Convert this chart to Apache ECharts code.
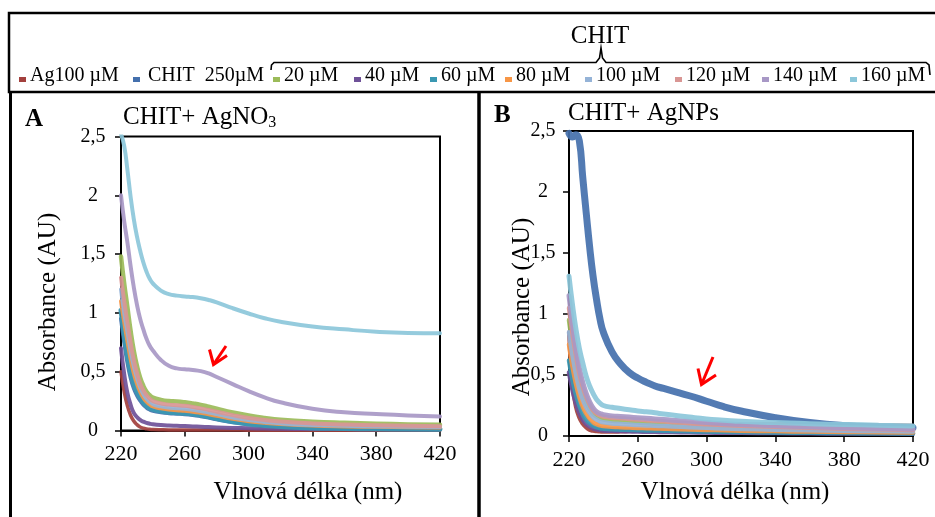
<!DOCTYPE html>
<html>
<head>
<meta charset="utf-8">
<script src="https://cdn.jsdelivr.net/npm/echarts@6/dist/echarts.min.js"></script>
<style>
  html, body { margin: 0; padding: 0; background: #ffffff; }
  #chart { width: 935px; height: 517px; }
</style>
</head>
<body>
<div id="chart"></div>
<script>
// Wavelength grid (nm) shared by every spectrum
const wavelengths = [220, 222, 224, 226, 228, 230, 232, 234, 236, 238, 240, 245, 250, 255, 260, 265, 270, 275, 280, 290, 300, 310, 320, 340, 360, 380, 400, 420];

const seriesNames = ['Ag100 µM', 'CHIT  250µM', '20 µM', '40 µM', '60 µM', '80 µM', '100 µM', '120 µM', '140 µM', '160 µM'];

// Panel A: CHIT + AgNO3 absorbance (AU)
const aAg100 = [0.50, 0.33, 0.21, 0.13, 0.08, 0.05, 0.03, 0.02, 0.014, 0.01, 0.008, 0.006, 0.005, 0.005, 0.005, 0.004, 0.004, 0.004, 0.004, 0.004, 0.003, 0.003, 0.003, 0.003, 0.003, 0.003, 0.003, 0.003];
const aChit250 = [0.95, 0.75, 0.58, 0.45, 0.36, 0.30, 0.255, 0.22, 0.195, 0.178, 0.168, 0.155, 0.147, 0.143, 0.139, 0.132, 0.122, 0.11, 0.095, 0.07, 0.052, 0.04, 0.031, 0.021, 0.016, 0.013, 0.011, 0.01];
const a20 = [1.48, 1.25, 1.05, 0.85, 0.68, 0.55, 0.45, 0.38, 0.33, 0.30, 0.28, 0.26, 0.25, 0.247, 0.24, 0.23, 0.218, 0.202, 0.185, 0.153, 0.127, 0.107, 0.092, 0.075, 0.065, 0.058, 0.052, 0.048];
const a40 = [0.70, 0.48, 0.32, 0.22, 0.15, 0.115, 0.09, 0.075, 0.065, 0.058, 0.053, 0.046, 0.042, 0.04, 0.038, 0.035, 0.032, 0.029, 0.026, 0.022, 0.019, 0.017, 0.015, 0.013, 0.012, 0.011, 0.01, 0.01];
const a60 = [1.02, 0.82, 0.64, 0.50, 0.40, 0.33, 0.28, 0.24, 0.21, 0.19, 0.18, 0.165, 0.155, 0.151, 0.147, 0.14, 0.13, 0.117, 0.102, 0.076, 0.056, 0.043, 0.034, 0.022, 0.017, 0.014, 0.012, 0.011];
const a80 = [1.10, 0.92, 0.76, 0.61, 0.49, 0.40, 0.33, 0.28, 0.245, 0.222, 0.205, 0.188, 0.178, 0.172, 0.167, 0.16, 0.15, 0.138, 0.125, 0.099, 0.079, 0.065, 0.055, 0.042, 0.035, 0.031, 0.028, 0.026];
const a100 = [1.20, 1.00, 0.84, 0.68, 0.55, 0.45, 0.37, 0.31, 0.27, 0.245, 0.225, 0.205, 0.195, 0.19, 0.184, 0.176, 0.166, 0.153, 0.14, 0.111, 0.089, 0.073, 0.061, 0.047, 0.04, 0.035, 0.032, 0.03];
const a120 = [1.30, 1.10, 0.92, 0.75, 0.60, 0.49, 0.40, 0.34, 0.30, 0.27, 0.25, 0.23, 0.22, 0.215, 0.21, 0.20, 0.188, 0.174, 0.16, 0.131, 0.106, 0.089, 0.076, 0.06, 0.05, 0.045, 0.04, 0.037];
const a140 = [2.00, 1.78, 1.60, 1.40, 1.22, 1.07, 0.95, 0.86, 0.78, 0.72, 0.68, 0.60, 0.55, 0.528, 0.52, 0.515, 0.505, 0.485, 0.455, 0.395, 0.335, 0.282, 0.24, 0.185, 0.155, 0.14, 0.128, 0.12];
const a160 = [2.52, 2.42, 2.22, 1.99, 1.80, 1.65, 1.53, 1.43, 1.35, 1.29, 1.25, 1.19, 1.16, 1.147, 1.14, 1.135, 1.125, 1.11, 1.09, 1.04, 0.995, 0.955, 0.925, 0.885, 0.86, 0.84, 0.83, 0.828];

// Panel B: CHIT + AgNPs absorbance (AU)
const bAg100 = [0.85, 0.42, 0.24, 0.15, 0.10, 0.07, 0.05, 0.042, 0.038, 0.036, 0.035, 0.035, 0.036, 0.038, 0.04, 0.043, 0.047, 0.052, 0.057, 0.068, 0.078, 0.086, 0.092, 0.097, 0.096, 0.092, 0.088, 0.085];
const bChit250 = [2.48, 2.45, 2.47, 2.42, 2.12, 1.83, 1.55, 1.31, 1.12, 0.96, 0.85, 0.69, 0.59, 0.52, 0.475, 0.44, 0.41, 0.39, 0.37, 0.33, 0.285, 0.24, 0.205, 0.15, 0.11, 0.085, 0.074, 0.068];
const b20 = [0.95, 0.75, 0.58, 0.45, 0.35, 0.27, 0.22, 0.18, 0.16, 0.145, 0.135, 0.125, 0.12, 0.115, 0.11, 0.105, 0.10, 0.097, 0.093, 0.085, 0.078, 0.072, 0.067, 0.06, 0.054, 0.05, 0.046, 0.043];
const b40 = [0.52, 0.38, 0.27, 0.19, 0.135, 0.10, 0.078, 0.063, 0.054, 0.048, 0.045, 0.042, 0.04, 0.038, 0.036, 0.035, 0.034, 0.033, 0.032, 0.03, 0.028, 0.027, 0.026, 0.024, 0.022, 0.021, 0.02, 0.019];
const b60 = [0.62, 0.46, 0.34, 0.25, 0.18, 0.135, 0.105, 0.085, 0.072, 0.064, 0.06, 0.055, 0.052, 0.05, 0.048, 0.046, 0.045, 0.044, 0.042, 0.039, 0.036, 0.034, 0.032, 0.029, 0.026, 0.024, 0.022, 0.02];
const b80 = [0.75, 0.57, 0.43, 0.32, 0.24, 0.185, 0.145, 0.115, 0.098, 0.088, 0.082, 0.076, 0.072, 0.069, 0.066, 0.064, 0.062, 0.06, 0.058, 0.054, 0.05, 0.047, 0.044, 0.04, 0.036, 0.033, 0.031, 0.029];
const b100 = [0.85, 0.66, 0.51, 0.39, 0.30, 0.235, 0.19, 0.155, 0.135, 0.12, 0.112, 0.103, 0.098, 0.094, 0.09, 0.087, 0.084, 0.081, 0.078, 0.072, 0.067, 0.062, 0.058, 0.052, 0.047, 0.043, 0.04, 0.037];
const b120 = [1.05, 0.84, 0.66, 0.51, 0.40, 0.32, 0.26, 0.21, 0.185, 0.17, 0.16, 0.15, 0.145, 0.14, 0.135, 0.13, 0.125, 0.12, 0.115, 0.105, 0.097, 0.09, 0.085, 0.075, 0.067, 0.06, 0.055, 0.05];
const b140 = [1.15, 0.92, 0.72, 0.56, 0.44, 0.35, 0.28, 0.23, 0.20, 0.185, 0.175, 0.165, 0.16, 0.155, 0.15, 0.145, 0.14, 0.135, 0.13, 0.12, 0.11, 0.10, 0.095, 0.085, 0.075, 0.068, 0.062, 0.058];
const b160 = [1.31, 1.08, 0.88, 0.72, 0.60, 0.49, 0.41, 0.35, 0.30, 0.27, 0.25, 0.235, 0.225, 0.215, 0.205, 0.198, 0.19, 0.18, 0.172, 0.155, 0.14, 0.13, 0.12, 0.11, 0.10, 0.095, 0.088, 0.082];

const panelA = [aAg100, aChit250, a20, a40, a60, a80, a100, a120, a140, a160];
const panelB = [bAg100, bChit250, b20, b40, b60, b80, b100, b120, b140, b160];

// Axis ticks
const yTicks = { min: 0, max: 2.5, step: 0.5 };
const xTicks = { min: 220, max: 420, step: 40 };

// ---------- styling ----------
const colors = ['#A3403D', '#4470AD', '#9BBB59', '#6F5198', '#3A98B2', '#F79646', '#95B3D7', '#D99694', '#A898C6', '#8CC7DA'];
const SERIF = "'Liberation Serif', 'Times New Roman', serif";

const chart = echarts.init(document.getElementById('chart'), null, { renderer: 'canvas' });

function pairs(arr) { return wavelengths.map((w, i) => [w, arr[i]]); }

function makeSeries(panel, gridIdx, widths) {
  return panel.map((arr, k) => ({
    type: 'line',
    name: seriesNames[k],
    xAxisIndex: gridIdx,
    yAxisIndex: gridIdx,
    data: pairs(arr),
    showSymbol: false,
    smooth: 0.5,
    clip: true,
    lineStyle: { color: colors[k], width: widths[k], opacity: 0.92, cap: 'round', join: 'round' },
    itemStyle: { color: colors[k] },
    z: 2 + k,
    silent: true
  }));
}

function xAxis(gridIdx) {
  return {
    type: 'value', gridIndex: gridIdx, min: xTicks.min, max: xTicks.max, interval: xTicks.step,
    axisLine: { show: true, onZero: false, lineStyle: { color: '#000', width: 2 } },
    axisTick: { show: true, inside: false, length: 6, lineStyle: { color: '#000', width: 1.5 } },
    axisLabel: { fontFamily: 'Liberation Serif', fontSize: 22, color: '#000', margin: 13 },
    splitLine: { show: false }
  };
}

function yAxis(gridIdx, margin) {
  return {
    type: 'value', gridIndex: gridIdx, min: yTicks.min, max: yTicks.max, interval: yTicks.step,
    axisLine: { show: true, lineStyle: { color: '#000', width: 2 } },
    axisTick: { show: true, inside: false, length: 6, lineStyle: { color: '#000', width: 1.5 } },
    axisLabel: {
      fontFamily: 'Liberation Serif', fontSize: 20, color: '#000', margin: margin, align: 'center',
      formatter: v => String(v).replace('.', ',')
    },
    splitLine: { show: false }
  };
}

function txt(x, y, text, size, extra) {
  return {
    type: 'text', x: x, y: y, silent: true,
    style: Object.assign({ text: text, font: size + 'px ' + SERIF, fill: '#000', align: 'left', verticalAlign: 'middle' }, extra || {})
  };
}

// Legend row (square marker + label)
const legendX = [19, 133, 273, 354, 430, 505, 585, 675, 762, 850];
const legendGraphics = [];
seriesNames.forEach((n, k) => {
  legendGraphics.push({ type: 'rect', silent: true, shape: { x: legendX[k], y: 77, width: 7, height: 5 }, style: { fill: colors[k] } });
  legendGraphics.push(txt(legendX[k] + (k === 1 ? 15 : 11), 76, n, 20));
});

const frameStyle = { stroke: '#000', lineWidth: 2.5, fill: null };

const graphics = [
  // outer frames
  { type: 'rect', silent: true, shape: { x: 9, y: 13, width: 940, height: 79 }, style: frameStyle },
  { type: 'line', silent: true, shape: { x1: 10.5, y1: 92, x2: 10.5, y2: 520 }, style: { stroke: '#000', lineWidth: 3 } },
  { type: 'line', silent: true, shape: { x1: 479, y1: 92, x2: 479, y2: 520 }, style: { stroke: '#000', lineWidth: 3.5 } },
  // brace grouping the CHIT concentrations
  { type: 'polyline', silent: true,
    shape: { points: [[271, 70], [271.5, 65], [274, 62.5], [596, 62.5], [599.5, 58], [601, 48], [602.5, 58], [606, 62.5], [926, 62.5], [929, 65], [930, 75]] },
    style: { stroke: '#000', lineWidth: 1.6, fill: null } },
  txt(600, 36, 'CHIT', 25, { align: 'center' }),
  // panel letters and titles
  txt(25, 120, 'A', 25, { font: 'bold 25px ' + SERIF }),
  txt(494, 116, 'B', 25, { font: 'bold 25px ' + SERIF }),
  { type: 'text', x: 123, y: 117, silent: true,
    style: { text: '{m|CHIT+ AgNO}{s|3}', verticalAlign: 'middle', fill: '#000',
      rich: { m: { font: '25px ' + SERIF, fill: '#000' }, s: { font: '16px ' + SERIF, fill: '#000', padding: [12, 0, 0, 0] } } } },
  txt(568, 113, 'CHIT+ AgNPs', 25),
  // axis titles
  txt(48, 302, 'Absorbance (AU)', 25, { align: 'center' }),
  txt(522, 307, 'Absorbance (AU)', 25, { align: 'center' }),
  txt(308, 492, 'Vlnová délka (nm)', 25, { align: 'center' }),
  txt(735, 492, 'Vlnová délka (nm)', 25, { align: 'center' }),
  // red arrows
  { type: 'polyline', silent: true, shape: { points: [[226, 346], [213.5, 364.5]] }, style: { stroke: '#FF0000', lineWidth: 3, fill: null } },
  { type: 'polyline', silent: true, shape: { points: [[209.5, 349.5], [213.5, 364.5], [227, 355.5]] }, style: { stroke: '#FF0000', lineWidth: 3, fill: null } },
  { type: 'polyline', silent: true, shape: { points: [[713, 357], [701.5, 384.5]] }, style: { stroke: '#FF0000', lineWidth: 3, fill: null } },
  { type: 'polyline', silent: true, shape: { points: [[698, 368.5], [701.5, 384.5], [716, 375]] }, style: { stroke: '#FF0000', lineWidth: 3, fill: null } }
].concat(legendGraphics);

// rotate the y-axis titles
graphics.filter(g => g.style && g.style.text === 'Absorbance (AU)').forEach(g => { g.rotation = Math.PI / 2; });

const widthsA = [3.5, 4, 4.5, 4, 5, 4, 4, 4, 4, 4];
const widthsB = [4, 7, 4.5, 4.5, 4.5, 4.5, 4.5, 4.5, 5, 5];

chart.setOption({
  animation: false,
  backgroundColor: '#ffffff',
  grid: [
    { left: 121, top: 136.5, width: 319, height: 294, show: true, borderColor: '#000', borderWidth: 2, backgroundColor: 'transparent' },
    { left: 569, top: 131, width: 344, height: 305, show: true, borderColor: '#000', borderWidth: 2, backgroundColor: 'transparent' }
  ],
  xAxis: [xAxis(0), xAxis(1)],
  yAxis: [yAxis(0, 28), yAxis(1, 26)],
  series: makeSeries(panelA, 0, widthsA).concat(makeSeries(panelB, 1, widthsB)),
  graphic: graphics
});
</script>
</body>
</html>
